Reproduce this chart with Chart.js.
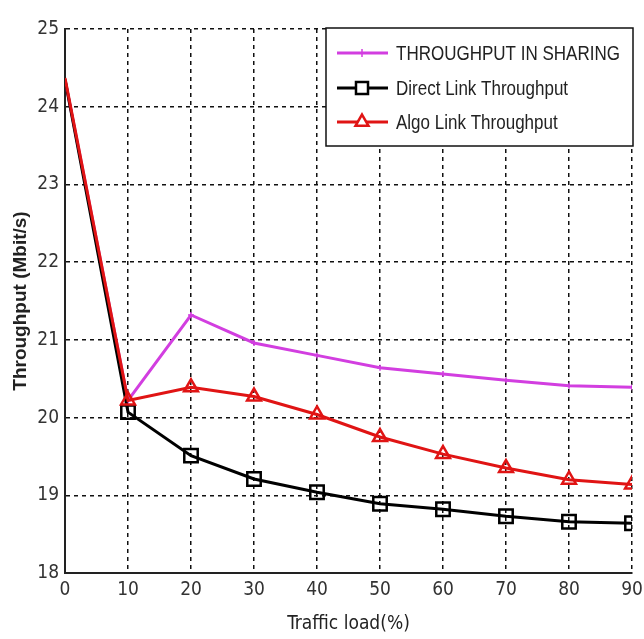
<!DOCTYPE html>
<html>
<head>
<meta charset="utf-8">
<script src="https://cdn.jsdelivr.net/npm/chart.js@4.4.1/dist/chart.umd.min.js"></script>
<style>
  html, body { margin: 0; padding: 0; background: #fff; }
  #wrap { width: 644px; height: 639px; position: relative; }
</style>
</head>
<body>
<div id="wrap"><canvas id="c"></canvas></div>
<script>
const trafficLoad = [0, 10, 20, 30, 40, 50, 60, 70, 80, 90];
const sharingThroughput = [24.35, 20.22, 21.32, 20.96, 20.80, 20.64, 20.56, 20.48, 20.41, 20.39];
const directThroughput  = [24.35, 20.07, 19.51, 19.21, 19.04, 18.89, 18.82, 18.73, 18.66, 18.64];
const algoThroughput    = [24.37, 20.22, 20.39, 20.27, 20.04, 19.75, 19.53, 19.35, 19.20, 19.14];
const yTicks = [18, 19, 20, 21, 22, 23, 24, 25];
const xTicks = [0, 10, 20, 30, 40, 50, 60, 70, 80, 90];
const seriesLabels = ['THROUGHPUT IN SHARING', 'Direct Link Throughput', 'Algo Link Throughput'];

const COND = "'DejaVu Sans Condensed', 'Liberation Sans', Arial, sans-serif";
const SANS = "'Liberation Sans', Arial, sans-serif";

function pts(vals) { return trafficLoad.map((x, i) => ({ x: x, y: vals[i] })); }
function radii(r) { return trafficLoad.map((x, i) => i === 0 ? 0 : r); }

const legendPlugin = {
  id: 'insideLegend',
  afterDraw(chart) {
    const ctx = chart.ctx;
    const bx = 326, by = 28, bw = 307, bh = 118;
    ctx.save();
    ctx.fillStyle = '#fff';
    ctx.fillRect(bx, by, bw, bh);
    ctx.strokeStyle = '#111';
    ctx.lineWidth = 1.5;
    ctx.strokeRect(bx, by, bw, bh);
    const rows = [53, 88, 122];
    chart.data.datasets.forEach((ds, i) => {
      const y = rows[i];
      ctx.strokeStyle = ds.borderColor;
      ctx.lineWidth = 3;
      ctx.beginPath();
      ctx.moveTo(337, y);
      ctx.lineTo(388, y);
      ctx.stroke();
      ctx.save();
      ctx.lineWidth = ds.pointBorderWidth;
      ctx.strokeStyle = ds.borderColor;
      ctx.fillStyle = i === 0 ? 'rgba(0,0,0,0)' : '#fff';
      Chart.helpers.drawPoint(ctx, {
        pointStyle: ds.pointStyle,
        rotation: 0,
        radius: ds.legendRadius,
        borderWidth: ds.pointBorderWidth
      }, 362, y);
      ctx.restore();
      ctx.save();
      ctx.fillStyle = '#222';
      ctx.font = "21px " + SANS;
      ctx.textBaseline = 'middle';
      ctx.textAlign = 'left';
      ctx.translate(396, y + 1);
      ctx.scale(0.81, 1);
      ctx.fillText(ds.label, 0, 0);
      ctx.restore();
    });
    ctx.restore();
  }
};

new Chart(document.getElementById('c'), {
  type: 'line',
  data: {
    datasets: [
      {
        label: seriesLabels[0],
        data: pts(sharingThroughput),
        borderColor: '#d23ee0',
        backgroundColor: 'rgba(0,0,0,0)',
        borderWidth: 3,
        pointStyle: 'cross',
        pointRadius: radii(3),
        legendRadius: 4,
        pointBorderWidth: 1.5,
        pointBorderColor: '#d23ee0',
        tension: 0,
        order: 2
      },
      {
        label: seriesLabels[1],
        data: pts(directThroughput),
        borderColor: '#000000',
        backgroundColor: 'rgba(0,0,0,0)',
        borderWidth: 3,
        pointStyle: 'rect',
        pointRadius: radii(9.5),
        legendRadius: 8.5,
        pointBorderWidth: 2.5,
        pointBorderColor: '#000000',
        pointBackgroundColor: 'rgba(0,0,0,0)',
        tension: 0,
        order: 1
      },
      {
        label: seriesLabels[2],
        data: pts(algoThroughput),
        borderColor: '#e01414',
        backgroundColor: 'rgba(0,0,0,0)',
        borderWidth: 3,
        pointStyle: 'triangle',
        pointRadius: radii(8),
        legendRadius: 7.5,
        pointBorderWidth: 2.5,
        pointBorderColor: '#e01414',
        pointBackgroundColor: 'rgba(0,0,0,0)',
        tension: 0,
        order: 0
      }
    ]
  },
  options: {
    responsive: true,
    maintainAspectRatio: false,
    animation: false,
    layout: { padding: { left: 0, top: 29, right: 0, bottom: 0 } },
    plugins: { legend: { display: false }, tooltip: { enabled: false } },
    scales: {
      x: {
        type: 'linear',
        min: 0, max: 90,
        afterBuildTicks(s) { s.ticks = xTicks.map(v => ({ value: v })); },
        afterFit(s) { s.height = 66; s.paddingRight = 10; s.paddingLeft = 0; },
        grid: { color: '#111', lineWidth: 1.5, drawTicks: false },
        border: { display: true, color: '#222', width: 2, dash: [4, 4] },
        ticks: { color: '#333', padding: 6, font: { family: COND, size: 19 } },
        title: { display: true, text: 'Traffic load(%)', color: '#222', padding: { top: 6 }, font: { family: COND, size: 19 } }
      },
      y: {
        min: 18, max: 25,
        afterBuildTicks(s) { s.ticks = yTicks.map(v => ({ value: v })); },
        afterFit(s) { s.width = 65; },
        grid: { color: '#111', lineWidth: 1.5, drawTicks: false },
        border: { display: true, color: '#222', width: 2, dash: [4, 4] },
        ticks: { color: '#333', padding: 6, font: { family: COND, size: 19 } },
        title: { display: true, text: 'Throughput (Mbit/s)', color: '#222', padding: { top: 9 }, font: { family: SANS, size: 19, weight: 'bold' } }
      }
    }
  },
  plugins: [legendPlugin]
});
</script>
</body>
</html>
